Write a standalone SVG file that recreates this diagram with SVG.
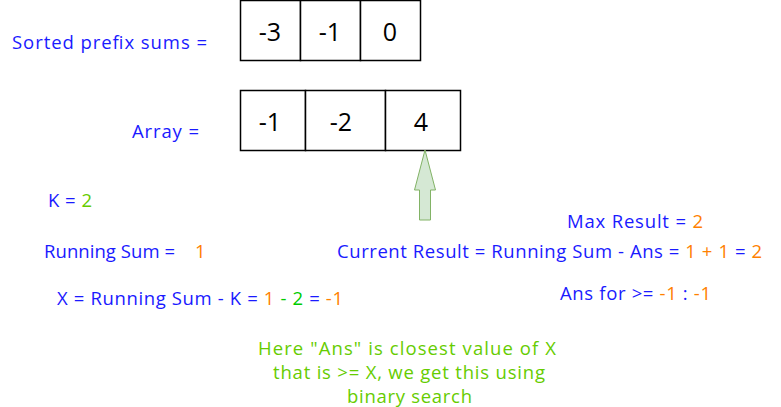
<svg xmlns="http://www.w3.org/2000/svg" width="781" height="407" viewBox="0 0 781 407">
<style>
text{font-family:"Open Sans","Liberation Sans",Arial,sans-serif;font-size:18.5px}
.b{fill:#1a1aff}.o{fill:#ff8000}.g{fill:#66cc00}.g2{fill:#00cc00}
.cell{fill:#fff;stroke:#000;stroke-width:1.5}
.num{font-size:25px;fill:#000;text-anchor:middle}
</style>
<rect width="781" height="407" fill="#fff"/>
<g id="sorted">
<rect class="cell" x="240.5" y="0.5" width="60" height="60"/>
<rect class="cell" x="300.5" y="0.5" width="60" height="60"/>
<rect class="cell" x="360.5" y="0.5" width="60" height="60"/>
<text class="num" x="270" y="41">-3</text>
<text class="num" x="330" y="41">-1</text>
<text class="num" x="390" y="41">0</text>
</g>
<g id="array">
<rect class="cell" x="240.5" y="90.5" width="65" height="60"/>
<rect class="cell" x="305.5" y="90.5" width="80" height="60"/>
<rect class="cell" x="385.5" y="90.5" width="75" height="60"/>
<text class="num" x="270" y="131">-1</text>
<text class="num" x="341" y="131">-2</text>
<text class="num" x="421" y="131">4</text>
</g>
<g id="connectors">
<path d="M425,150 L435.5,190 L430.5,190 L430.5,220 L419.5,220 L419.5,190 L414.5,190 Z" fill="#d5e8d4" stroke="#82b366" stroke-width="1"/>
</g>
<g id="labels">
<text class="b" x="12" y="49" textLength="195" lengthAdjust="spacing">Sorted prefix sums =</text>
<text class="b" x="132" y="138" textLength="67" lengthAdjust="spacing">Array =</text>
<text x="48" y="207" textLength="44" lengthAdjust="spacing"><tspan class="b">K = </tspan><tspan class="g">2</tspan></text>
<text class="b" x="44" y="258" textLength="131" lengthAdjust="spacing">Running Sum =</text>
<text class="o" x="195" y="258">1</text>
<text x="57" y="305" textLength="286" lengthAdjust="spacing"><tspan class="b">X = Running Sum - K = </tspan><tspan class="o">1</tspan><tspan class="g2"> - 2 </tspan><tspan class="b">= </tspan><tspan class="o">-1</tspan></text>
<text x="567" y="228" textLength="136" lengthAdjust="spacing"><tspan class="b">Max Result = </tspan><tspan class="o">2</tspan></text>
<text x="337" y="258" textLength="425" lengthAdjust="spacing"><tspan class="b">Current Result = Running Sum - Ans = </tspan><tspan class="o">1 + 1</tspan><tspan class="b"> = </tspan><tspan class="o">2</tspan></text>
<text x="560" y="300" textLength="151" lengthAdjust="spacing"><tspan class="b">Ans for &gt;= </tspan><tspan class="o">-1</tspan><tspan class="b"> : </tspan><tspan class="o">-1</tspan></text>
<g class="g">
<text x="258" y="355" textLength="298" lengthAdjust="spacing">Here "Ans" is closest value of X</text>
<text x="273" y="379" textLength="272" lengthAdjust="spacing">that is &gt;= X, we get this using</text>
<text x="347" y="403" textLength="125" lengthAdjust="spacing">binary search</text>
</g>
</g>
</svg>
